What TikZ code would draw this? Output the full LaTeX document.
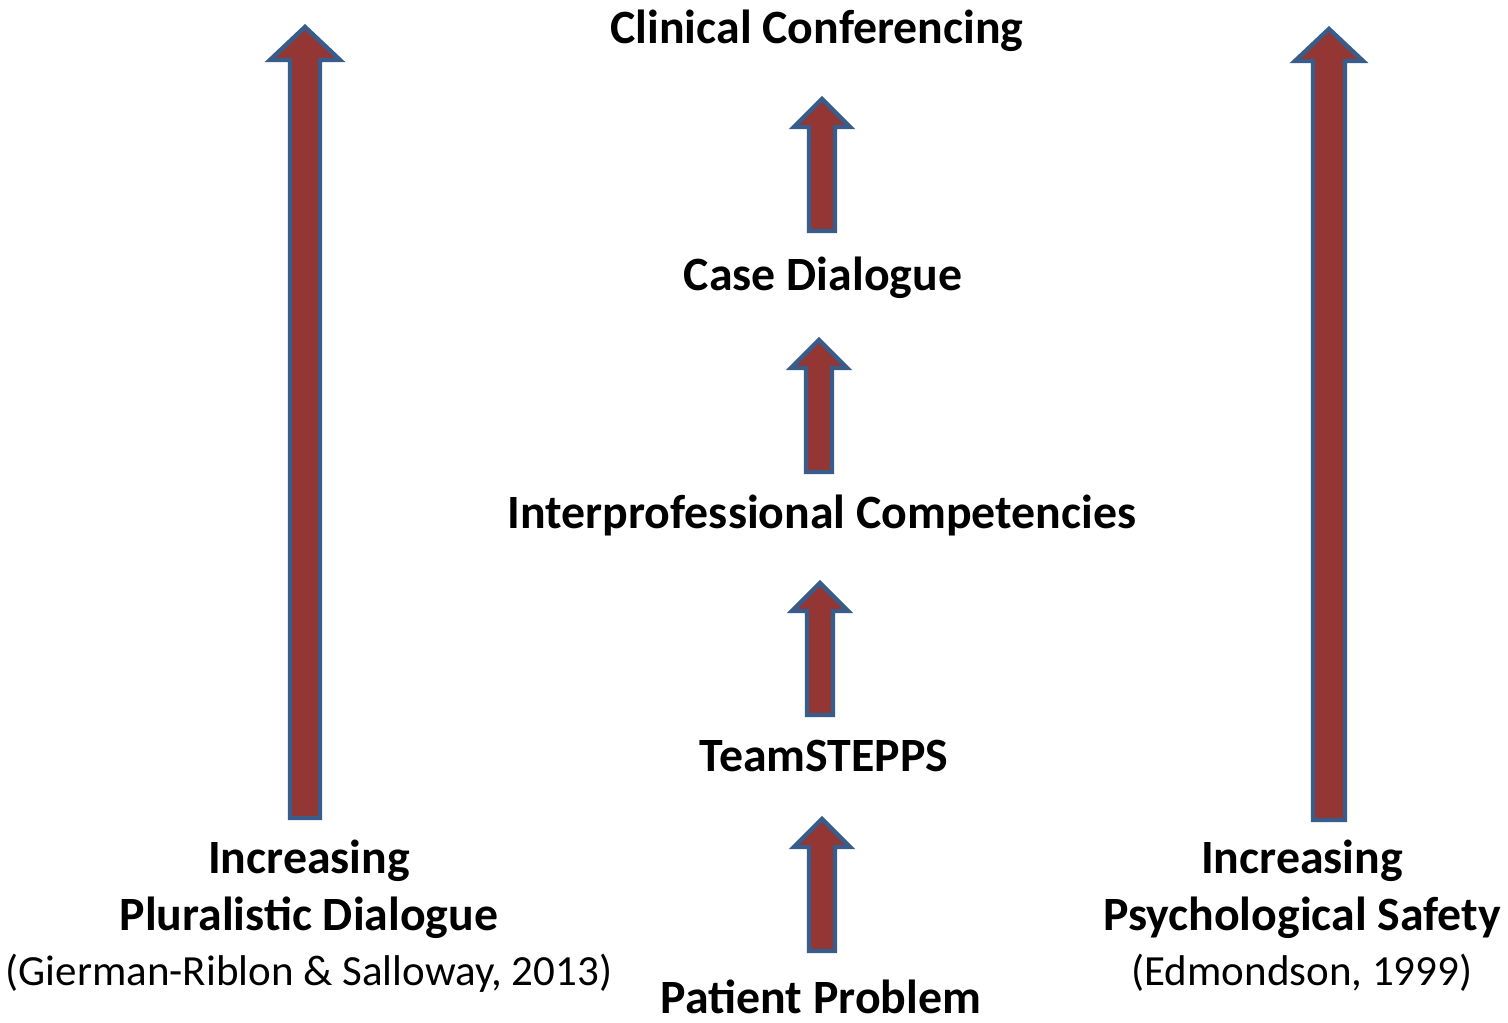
\documentclass[tikz,border=0pt]{standalone}
\usepackage{fontspec}
\setmainfont{Carlito}
\usepackage{xcolor}
\usepackage{tikz}
\usetikzlibrary{positioning}

\definecolor{arrowred}{RGB}{148,54,52}
\definecolor{arrowblue}{RGB}{56,93,138}

\begin{document}
\begin{tikzpicture}[
					x=0.5pt, y=-0.5pt,
					blockarrow/.style={
						draw=arrowblue, fill=arrowred, line width=2.2pt, line join=miter
					},
					stage/.style={
						font=\fontsize{23.9}{28.5}\selectfont\bfseries, inner sep=0pt, anchor=base
					},
					sidelabel/.style={
						font=\fontsize{23.9}{28.5}\selectfont, align=center, inner sep=0pt, anchor=base
					}
					]
					\useasboundingbox (0,0) rectangle (1508,1022);
					
					% stages in the middle
					\node[stage] (clinical) at (817,44) {Clinical Conferencing};
					\node[stage] (casedlg) at (823,290) {Case Dialogue};
					\node[stage] (interprof) at (822,528) {Interprofessional Competencies};
					\node[stage] (teamstepps) at (824,771) {TeamSTEPPS};
					\node[stage] (patient) at (821,1013) {Patient Problem};
					
					% side labels (base = last line)
					\node[sidelabel] (pluralistic) at (309,985) {\textbf{Increasing}\\\textbf{Pluralistic Dialogue}\\[-1pt]{\fontsize{21.5}{26}\selectfont(Gierman-Riblon \& Salloway, 2013)}};
					\node[sidelabel] (psychsafety) at (1302,985) {\textbf{Increasing}\\\textbf{Psychological Safety}\\[-1pt]{\fontsize{21.5}{26}\selectfont(Edmondson, 1999)}};
					
					% block arrows: x / tip / bottom / head half width / shaft half width / head length
					\foreach \x/\ytip/\ybot/\hw/\sw/\hl in {
						305/27/818/35/15/33,
						1329/29/820/34/16/32,
						822/99/231/28/13/28,
						819/340/472/28/13/28,
						820/583/715/28/13/28,
						822/819/951/28/13/28} {
						\draw[blockarrow] (\x,\ytip) -- ++(\hw,\hl) -- ++(-\hw+\sw,0) -- (\x+\sw,\ybot)
							-- (\x-\sw,\ybot) -- (\x-\sw,\ytip+\hl) -- ++(-\hw+\sw,0) -- cycle;
					}
				\end{tikzpicture}
\end{document}
